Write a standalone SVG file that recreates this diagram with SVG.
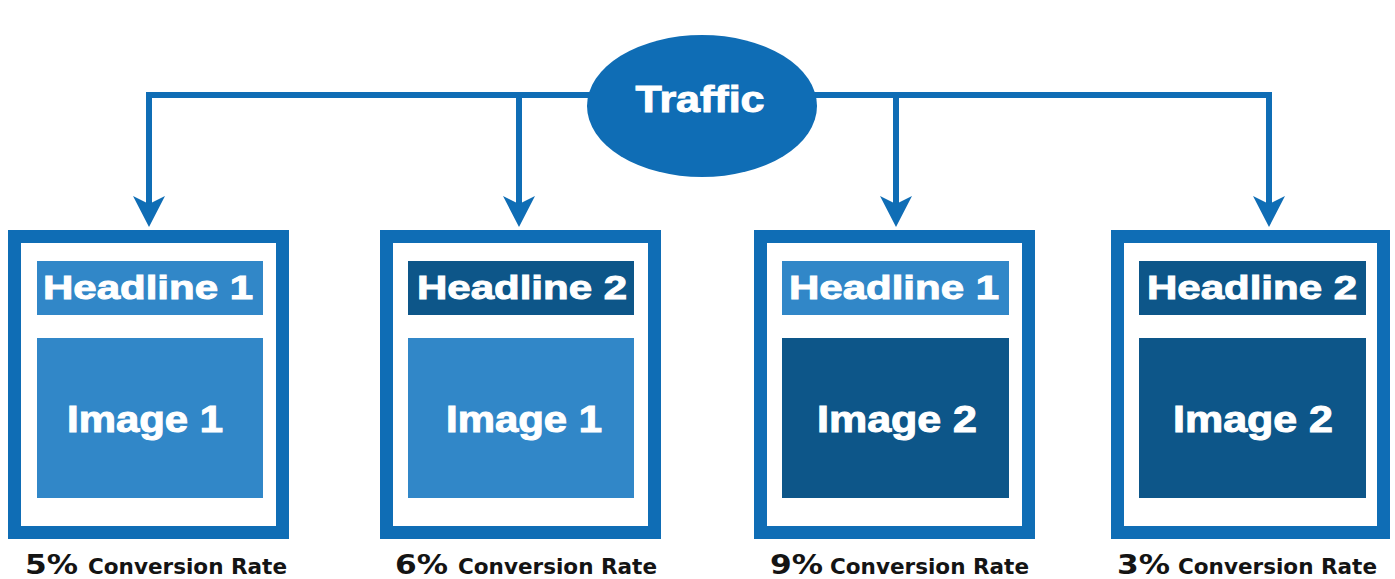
<svg xmlns="http://www.w3.org/2000/svg" width="1395" height="579" viewBox="0 0 1395 579">
  <style>
    .frame { fill: #ffffff; stroke: #0f6db5; stroke-width: 13; }
    .light { fill: #3187c8; }
    .dark { fill: #0d5689; }
    .wl { fill: #ffffff; stroke: #ffffff; stroke-width: 1; font-family: "Liberation Sans", Arial, sans-serif; font-weight: bold; text-anchor: middle; }
    .hl { font-size: 34px; }
    .im { font-size: 36px; }
    .cr { fill: #141414; font-family: "DejaVu Sans", Verdana, sans-serif; font-weight: bold; }
    .pct { font-size: 27px; }
    .cv { font-size: 21px; }
    .line { fill: none; stroke: #0f6db5; stroke-width: 6; }
    .head { fill: #0f6db5; }
  </style>
  <rect width="1395" height="579" fill="#ffffff"/>
  <g id="connectors">
    <path class="line" d="M149,207 V95 H1269 V207"/>
    <path class="line" d="M519,95 V207"/>
    <path class="line" d="M896,95 V207"/>
    <polygon class="head" points="149,227 133,196 149,204 165,196"/>
    <polygon class="head" points="519,227 503,196 519,204 535,196"/>
    <polygon class="head" points="896,227 880,196 896,204 912,196"/>
    <polygon class="head" points="1269,227 1253,196 1269,204 1285,196"/>
  </g>
  <g id="traffic">
    <ellipse cx="702" cy="106" rx="115" ry="71" fill="#0f6db5"/>
    <text class="wl" x="700" y="112" font-size="37" textLength="129" lengthAdjust="spacingAndGlyphs">Traffic</text>
  </g>
  <g id="variant1">
    <rect class="frame" x="14.5" y="236.5" width="268" height="296"/>
    <rect class="light" x="37" y="261" width="226" height="54"/>
    <text class="wl hl" x="148" y="299" textLength="210" lengthAdjust="spacingAndGlyphs">Headline 1</text>
    <rect class="light" x="37" y="338" width="226" height="160"/>
    <text class="wl im" x="145" y="432" textLength="156" lengthAdjust="spacingAndGlyphs">Image 1</text>
    <text class="cr pct" x="25" y="574" textLength="53" lengthAdjust="spacingAndGlyphs">5%</text>
    <text class="cr cv" x="88" y="574" textLength="199" lengthAdjust="spacingAndGlyphs">Conversion Rate</text>
  </g>
  <g id="variant2">
    <rect class="frame" x="386.5" y="236.5" width="268" height="296"/>
    <rect class="dark" x="408" y="261" width="226" height="54"/>
    <text class="wl hl" x="522" y="299" textLength="210" lengthAdjust="spacingAndGlyphs">Headline 2</text>
    <rect class="light" x="408" y="338" width="226" height="160"/>
    <text class="wl im" x="524" y="432" textLength="156" lengthAdjust="spacingAndGlyphs">Image 1</text>
    <text class="cr pct" x="395" y="574" textLength="53" lengthAdjust="spacingAndGlyphs">6%</text>
    <text class="cr cv" x="458" y="574" textLength="199" lengthAdjust="spacingAndGlyphs">Conversion Rate</text>
  </g>
  <g id="variant3">
    <rect class="frame" x="760.5" y="236.5" width="268" height="296"/>
    <rect class="light" x="782" y="261" width="227" height="54"/>
    <text class="wl hl" x="894" y="299" textLength="210" lengthAdjust="spacingAndGlyphs">Headline 1</text>
    <rect class="dark" x="782" y="338" width="227" height="160"/>
    <text class="wl im" x="897" y="432" textLength="160" lengthAdjust="spacingAndGlyphs">Image 2</text>
    <text class="cr pct" x="770" y="574" textLength="53" lengthAdjust="spacingAndGlyphs">9%</text>
    <text class="cr cv" x="830" y="574" textLength="199" lengthAdjust="spacingAndGlyphs">Conversion Rate</text>
  </g>
  <g id="variant4">
    <rect class="frame" x="1117.5" y="236.5" width="266" height="296"/>
    <rect class="dark" x="1139" y="261" width="227" height="54"/>
    <text class="wl hl" x="1252" y="299" textLength="210" lengthAdjust="spacingAndGlyphs">Headline 2</text>
    <rect class="dark" x="1139" y="338" width="227" height="160"/>
    <text class="wl im" x="1253" y="432" textLength="160" lengthAdjust="spacingAndGlyphs">Image 2</text>
    <text class="cr pct" x="1117" y="574" textLength="53" lengthAdjust="spacingAndGlyphs">3%</text>
    <text class="cr cv" x="1178" y="574" textLength="199" lengthAdjust="spacingAndGlyphs">Conversion Rate</text>
  </g>
</svg>
